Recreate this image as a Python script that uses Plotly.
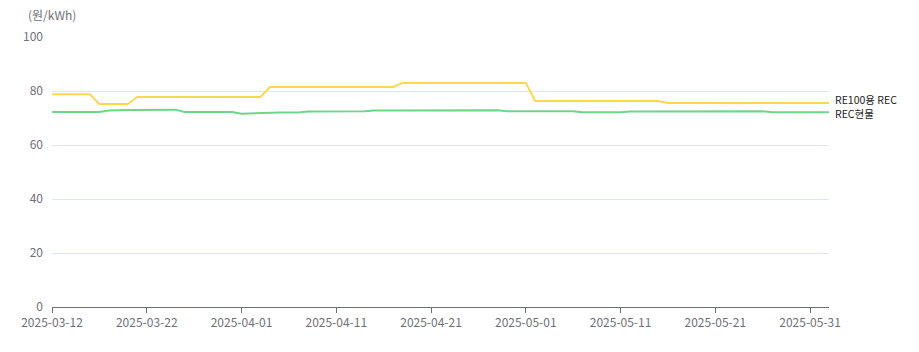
import plotly.graph_objects as go
import pandas as pd

start_date = "2025-03-12"
n_days = 83
dates = pd.date_range(start_date, periods=n_days, freq="D")

series_names = ["RE100용 REC", "REC현물"]

re100_rec = [
    78.8, 78.8, 78.8, 78.8, 78.8,
    75.2, 75.2, 75.2, 75.2,
    77.8, 77.8, 77.8, 77.8, 77.8, 77.8, 77.8, 77.8, 77.8, 77.8, 77.8, 77.8, 77.8, 77.8,
    81.5, 81.5, 81.5, 81.5, 81.5, 81.5, 81.5, 81.5, 81.5, 81.5, 81.5, 81.5, 81.5, 81.5,
    83.0, 83.0, 83.0, 83.0, 83.0, 83.0, 83.0, 83.0, 83.0, 83.0, 83.0, 83.0, 83.0, 83.0,
    76.3, 76.3, 76.3, 76.3, 76.3, 76.3, 76.3, 76.3, 76.3, 76.3, 76.3, 76.3, 76.3, 76.3,
    75.6, 75.6, 75.6, 75.6, 75.6, 75.6, 75.6, 75.6, 75.6, 75.6, 75.6, 75.6, 75.6, 75.6,
    75.6, 75.6, 75.6, 75.6,
]

rec_spot = [
    72.2, 72.2, 72.2, 72.2, 72.2, 72.2,
    72.8, 73.0, 73.0, 73.0, 73.0, 73.0, 73.0, 73.1,
    72.2, 72.2, 72.2, 72.2, 72.2, 72.2,
    71.6, 71.7,
    72.0, 72.0, 72.0, 72.0, 72.0,
    72.4, 72.4, 72.4, 72.4, 72.4, 72.4, 72.5,
    72.8, 72.8, 72.8, 72.8, 72.8, 72.8, 72.9, 72.9, 72.9, 72.9, 72.9, 72.9, 72.9, 72.9,
    72.5, 72.5, 72.5, 72.5, 72.5, 72.5, 72.5, 72.5,
    72.1, 72.1, 72.1, 72.1, 72.1,
    72.4, 72.4, 72.4, 72.4, 72.4, 72.4, 72.5, 72.5, 72.5, 72.5, 72.5, 72.5, 72.5, 72.5, 72.5,
    72.1, 72.1, 72.1, 72.1, 72.1, 72.1, 72.1,
]

y_ticks = [0, 20, 40, 60, 80, 100]
y_unit = "(원/kWh)"

colors = ["#FDD84E", "#6CD68A"]
font_family = "Noto Sans CJK KR, Noto Sans, sans-serif"
axis_color = "#6E7079"

fig = go.Figure()
for name, vals, col in zip(series_names, [re100_rec, rec_spot], colors):
    fig.add_trace(go.Scatter(
        x=dates, y=vals, mode="lines", name=name,
        line=dict(color=col, width=2), hoverinfo="x+y+name",
    ))

# end labels
for name, vals, ys in zip(series_names, [re100_rec, rec_spot], [3.5, -1]):
    fig.add_annotation(
        x=dates[-1], y=vals[-1], text=name, showarrow=False,
        xanchor="left", yanchor="middle", xshift=5, yshift=ys,
        borderpad=0,
        font=dict(family=font_family, size=10.5, color="#222222"),
    )

fig.add_annotation(
    xref="paper", yref="paper", x=0, y=1.0815, text=y_unit, showarrow=False,
    xanchor="center", yanchor="middle",
    font=dict(family=font_family, size=12, color=axis_color),
)

fig.update_layout(
    width=919, height=352,
    margin=dict(l=52, r=90, t=37, b=45),
    paper_bgcolor="white", plot_bgcolor="white",
    showlegend=False,
    font=dict(family=font_family, size=12, color=axis_color),
    xaxis=dict(
        type="date",
        range=[dates[0], dates[-1]],
        tick0=start_date, dtick=10 * 86400000,
        tickformat="%Y-%m-%d",
        showgrid=False, zeroline=False,
        showline=True, linecolor=axis_color, linewidth=1,
        ticks="outside", ticklen=5, tickcolor=axis_color,
        tickfont=dict(family=font_family, size=12, color=axis_color),
    ),
    yaxis=dict(
        range=[0, 100], tickvals=y_ticks,
        showgrid=True, gridcolor="#E0E6F1", gridwidth=1,
        zeroline=False, showline=False, ticks="",
        ticklabelstandoff=8,
        tickfont=dict(family=font_family, size=12, color=axis_color),
    ),
)

fig.write_html("out.html")
